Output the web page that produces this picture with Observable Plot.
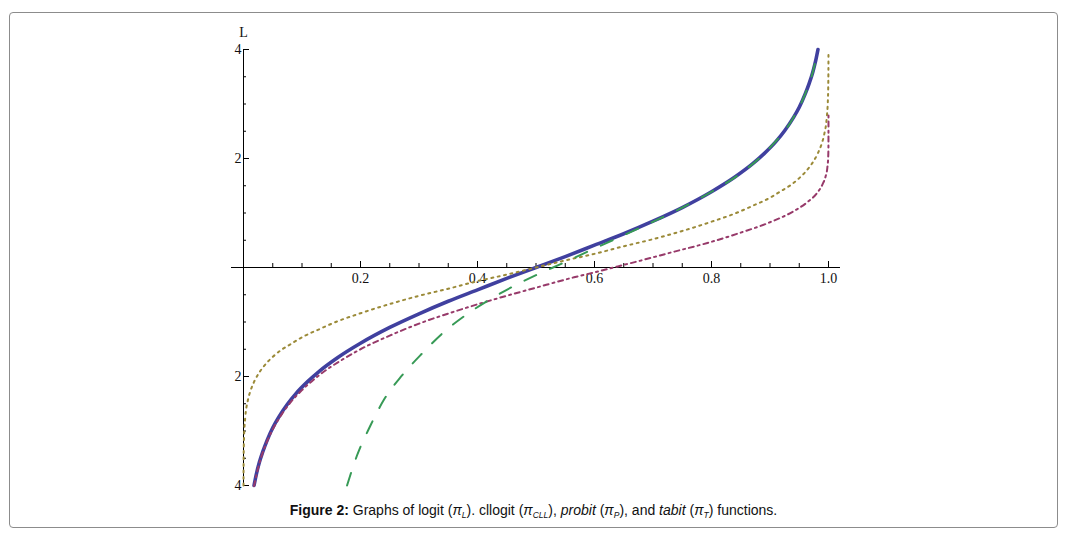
<!DOCTYPE html>
<html>
<head>
<meta charset="utf-8">
<script src="https://cdn.jsdelivr.net/npm/d3@7"></script>
<script src="https://cdn.jsdelivr.net/npm/@observablehq/plot@0.6"></script>
<style>
  html, body { margin: 0; padding: 0; background: #fff; }
  #wrap { position: relative; width: 1067px; height: 537px; overflow: hidden; }
  #frame { position: absolute; left: 9px; top: 12px; width: 1047px; height: 514px; border: 1px solid #8c8c8c; border-radius: 4px; }
  #chart { position: absolute; left: 0; top: 0; }
  #cap { position: absolute; left: 0; top: 502px; width: 1067px; text-align: center;
         font-family: "Liberation Sans", Arial, sans-serif; font-size: 14px; line-height: 16px; color: #111; }
  #cap sub { font-size: 8.5px; vertical-align: -3px; line-height: 0; }
  #chart svg text { font-family: "Liberation Serif", "Times New Roman", serif; }
</style>
</head>
<body>
<div id="wrap">
  <div id="frame"></div>
  <div id="chart"></div>
  <div id="cap"><b>Figure 2:</b> Graphs of logit (<i>π</i><sub><i>L</i></sub>). cllogit (<i>π</i><sub><i>CLL</i></sub>), <i>probit</i> (<i>π</i><sub><i>P</i></sub>), and <i>tabit</i> (<i>π</i><sub><i>T</i></sub>) functions.</div>
</div>
<script>
// ---- data ----
const logitP = [0.018,0.022,0.027,0.033,0.04,0.05,0.06,0.075,0.09,0.11,0.13,0.16,0.2,0.25,0.3,0.35,0.4,0.45,0.5,0.55,0.6,0.65,0.7,0.75,0.8,0.84,0.87,0.89,0.91,0.925,0.94,0.95,0.96,0.967,0.973,0.978,0.982];
const logitL = [-4.00,-3.79,-3.58,-3.38,-3.18,-2.94,-2.75,-2.51,-2.31,-2.09,-1.90,-1.66,-1.39,-1.10,-0.85,-0.62,-0.41,-0.20,0,0.20,0.41,0.62,0.85,1.10,1.39,1.66,1.90,2.09,2.31,2.51,2.75,2.94,3.18,3.38,3.58,3.79,4.00];

const cllP = [0.018,0.025,0.03,0.04,0.05,0.065,0.08,0.1,0.13,0.166,0.2,0.25,0.3,0.36,0.43,0.5,0.565,0.6,0.64,0.68,0.736,0.793,0.85,0.9,0.94,0.964,0.98,0.99,0.995,0.998,0.9995,0.9999,1.0];
const cllL = [-4.01,-3.68,-3.49,-3.20,-2.97,-2.70,-2.48,-2.25,-1.97,-1.71,-1.50,-1.25,-1.03,-0.81,-0.58,-0.37,-0.18,-0.09,0.02,0.13,0.29,0.45,0.64,0.83,1.03,1.20,1.36,1.53,1.67,1.83,2.03,2.22,2.80];

const probitP = [0.00003,0.0001,0.0005,0.001,0.003,0.007,0.012,0.018,0.025,0.035,0.05,0.065,0.08,0.1,0.13,0.16,0.2,0.25,0.3,0.35,0.4,0.45,0.5,0.55,0.6,0.65,0.7,0.75,0.8,0.84,0.87,0.9,0.92,0.935,0.95,0.965,0.975,0.982,0.988,0.993,0.997,0.999,0.9995,0.9999,0.99995];
const probitL = [-4.0,-3.72,-3.29,-3.09,-2.75,-2.46,-2.26,-2.10,-1.96,-1.81,-1.64,-1.51,-1.41,-1.28,-1.13,-0.99,-0.84,-0.67,-0.52,-0.39,-0.25,-0.13,0,0.13,0.25,0.39,0.52,0.67,0.84,0.99,1.13,1.28,1.41,1.51,1.64,1.81,1.96,2.10,2.26,2.46,2.75,3.09,3.29,3.72,3.90];

const tabitP = [0.177,0.194,0.217,0.241,0.271,0.305,0.342,0.379,0.419,0.462,0.5,0.548,0.59,0.633,0.68,0.75,0.8,0.85,0.9,0.94,0.96,0.973,0.981];
const tabitL = [-4.0,-3.45,-2.90,-2.41,-1.98,-1.58,-1.19,-0.88,-0.60,-0.34,-0.14,0.09,0.30,0.51,0.74,1.10,1.39,1.73,2.20,2.75,3.18,3.58,3.95];

const xMinorTicks = [0.05,0.1,0.15,0.25,0.3,0.35,0.45,0.5,0.55,0.65,0.7,0.75,0.85,0.9,0.95];
const xMajorTicks = [0.2,0.4,0.6,0.8,1.0];
const xTickLabels = ["0.2","0.4","0.6","0.8","1.0"];
const yMinorTicks = [-3.5,-3,-2.5,-1.5,-1,-0.5,0.5,1,1.5,2.5,3,3.5];
const yMajorTicks = [-4,-2,2,4];
const yTickLabels = ["4","2","2","4"];
const yAxisTitle = "L";
const xAxisExtent = [-0.0205, 1.0205];
const yAxisExtent = [-4, 4];

const toRows = (P, L) => P.map((p, i) => ({p, L: L[i]}));
const logit = toRows(logitP, logitL);
const cll = toRows(cllP, cllL);
const probit = toRows(probitP, probitL);
const tabit = toRows(tabitP, tabitL);

const serif = "'Liberation Serif', 'Times New Roman', serif";

const chart = Plot.plot({
  width: 1067,
  height: 500,
  marginLeft: 243,
  marginRight: 239,
  marginTop: 49,
  marginBottom: 15,
  x: {domain: [0, 1], axis: null},
  y: {domain: [-4, 4], axis: null},
  style: {fontFamily: serif, fontSize: "13px", background: "transparent", color: "#111"},
  marks: [
    // axes crossing at origin
    Plot.ruleY([0], {x1: () => xAxisExtent[0], x2: () => xAxisExtent[1], stroke: "#000", strokeWidth: 1}),
    Plot.ruleX([0], {y1: () => yAxisExtent[0], y2: () => yAxisExtent[1], stroke: "#000", strokeWidth: 1}),
    // x ticks (pointing up)
    Plot.ruleX(xMinorTicks, {x: d => d, y1: () => 0, y2: () => 0, insetTop: -4, stroke: "#000"}),
    Plot.ruleX(xMajorTicks, {x: d => d, y1: () => 0, y2: () => 0, insetTop: -6, stroke: "#000"}),
    // y ticks (pointing right)
    Plot.ruleY(yMinorTicks, {y: d => d, x1: () => 0, x2: () => 0, insetRight: -3, stroke: "#000"}),
    Plot.ruleY(yMajorTicks, {y: d => d, x1: () => 0, x2: () => 0, insetRight: -6, stroke: "#000"}),
    // tick labels
    Plot.text(xMajorTicks, {x: d => d, y: () => 0, text: (d, i) => xTickLabels[i], dy: 11, fill: "#111", fontSize: 14, fontFamily: serif}),
    Plot.text(yMajorTicks, {x: () => 0, y: d => d, text: (d, i) => yTickLabels[i], dx: -2, textAnchor: "end", fill: "#111", fontSize: 14, fontFamily: serif}),
    Plot.text([yAxisTitle], {x: () => 0, y: () => 4, text: d => d, dy: -17, fill: "#111", fontSize: 14, fontFamily: serif}),
    // curves
    Plot.line(logit, {x: "p", y: "L", stroke: "#40409f", strokeWidth: 3.6, curve: "monotone-x"}),
    Plot.line(probit, {x: "p", y: "L", stroke: "#9b8a38", strokeWidth: 2, strokeDasharray: "2,4.5", curve: "monotone-x"}),
    Plot.line(cll, {x: "p", y: "L", stroke: "#973a6a", strokeWidth: 2, strokeDasharray: "5,4,2,4", curve: "monotone-x"}),
    Plot.line(tabit, {x: "p", y: "L", stroke: "#379a56", strokeWidth: 2, strokeDasharray: "13,15", curve: "monotone-x"})
  ]
});
document.getElementById("chart").appendChild(chart);
</script>
</body>
</html>
